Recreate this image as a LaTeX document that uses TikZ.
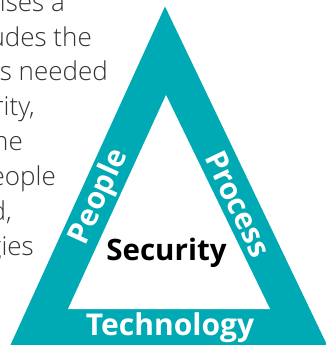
\documentclass[tikz,border=0pt]{standalone}
\usepackage{fontspec}
\setmainfont{Open Sans}
\newfontfamily\lightfont{Open Sans Light}
\definecolor{tealband}{HTML}{00AAB4}
\definecolor{bodygray}{HTML}{333333}
\begin{document}
\begin{tikzpicture}[x=1pt,y=-1pt,
  lbl/.style={font=\bfseries\fontsize{30}{32}\selectfont, text=white, inner sep=0pt},
  center/.style={font=\bfseries\fontsize{29.5}{31}\selectfont, text=black, inner sep=0pt, anchor=base},
  body/.style={font=\lightfont\fontsize{26}{30}\selectfont, text=bodygray, inner sep=0pt, anchor=base east}]
\useasboundingbox (0,0) rectangle (326,345);
\clip (0,0) rectangle (326,345);
\fill[tealband] (165,6.5) -- (10,346) -- (327.5,346) -- cycle;
\fill[white] (166,95) -- (68,309) -- (270,309) -- cycle;
% side text fragments
\node[body] (t1) at (65,11.7) {ises a};
\node[body] (t2) at (92,46) {udes the};
\node[body] (t3) at (108,81) {s needed};
\node[body] (t4) at (35,115) {rity,};
\node[body] (t5) at (23,150) {he};
\node[body] (t6) at (56,185) {eople};
\node[body] (t7) at (12,220) {d,};
\node[body] (t8) at (34,255) {gies};
% labels
\node[lbl, rotate=65.5] (people) at (99.5,197) {People};
\node[lbl, rotate=-64.5] (process) at (238,204) {Process};
\node[lbl, anchor=base] (tech) at (170,335.5) {Technology};
\node[center] (sec) at (166.5,260) {Security};
\end{tikzpicture}
\end{document}
